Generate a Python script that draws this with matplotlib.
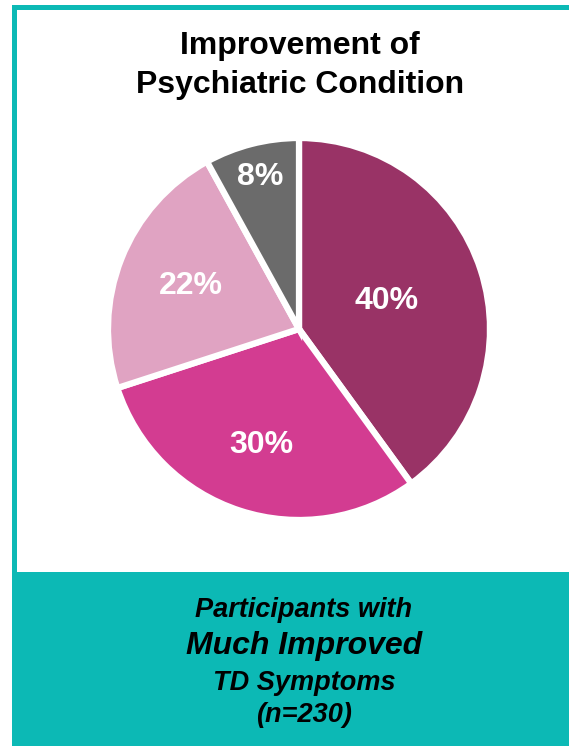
import numpy as np
import matplotlib
matplotlib.use('Agg')
import matplotlib.pyplot as plt
from matplotlib.patches import Rectangle

# data
shares = [40, 30, 22, 8]
labels = ['40%', '30%', '22%', '8%']
colors = ['#993366', '#D33C91', '#E0A3C2', '#6B6B6B']
label_r = [0.48, 0.64, 0.61, 0.82]  # where each % label sits (fraction of radius)

title = ['Improvement of', 'Psychiatric Condition']
foot = ['Participants with', 'Much Improved', 'TD Symptoms', '(n=230)']

teal = '#0CB9B5'
W, H = 569, 746
plt.rcParams['font.family'] = ['Liberation Sans', 'DejaVu Sans']

fig = plt.figure(figsize=(W / 100, H / 100), dpi=100)

# background frame, pixel coords
bg = fig.add_axes([0, 0, 1, 1])
bg.set_xlim(0, W)
bg.set_ylim(H, 0)
bg.axis('off')
bg.add_patch(Rectangle((12, 5), W - 12, 5, color=teal, lw=0))
bg.add_patch(Rectangle((12, 5), 5, H, color=teal, lw=0))
bg.add_patch(Rectangle((12, 572), W - 12, H - 572, color=teal, lw=0))

for t, y in zip(title, [54, 93]):
    bg.text(300, y, t, ha='center', va='baseline',
            fontsize=23, fontweight='bold', color='black')

foot_y = [617, 654, 690, 722]
foot_sz = [19.5, 23, 19.5, 19.5]
for t, y, s in zip(foot, foot_y, foot_sz):
    bg.text(304, y, t, ha='center', va='baseline', fontsize=s,
            fontweight='bold', style='italic', color='black')

# pie
cx, cy, r = 299, 329, 191
ax = fig.add_axes([(cx - r) / W, 1 - (cy + r) / H, 2 * r / W, 2 * r / H])
wedges, _ = ax.pie(shares, colors=colors, startangle=90, counterclock=False,
                   wedgeprops=dict(edgecolor='white', linewidth=4.5))
ax.set_xlim(-1, 1)
ax.set_ylim(-1, 1)
ax.axis('off')

for w, lab, d in zip(wedges, labels, label_r):
    ang = np.deg2rad((w.theta1 + w.theta2) / 2)
    ax.text(d * np.cos(ang), d * np.sin(ang), lab, ha='center', va='center',
            fontsize=23, fontweight='bold', color='white')

fig.savefig('out.png', dpi=100)
